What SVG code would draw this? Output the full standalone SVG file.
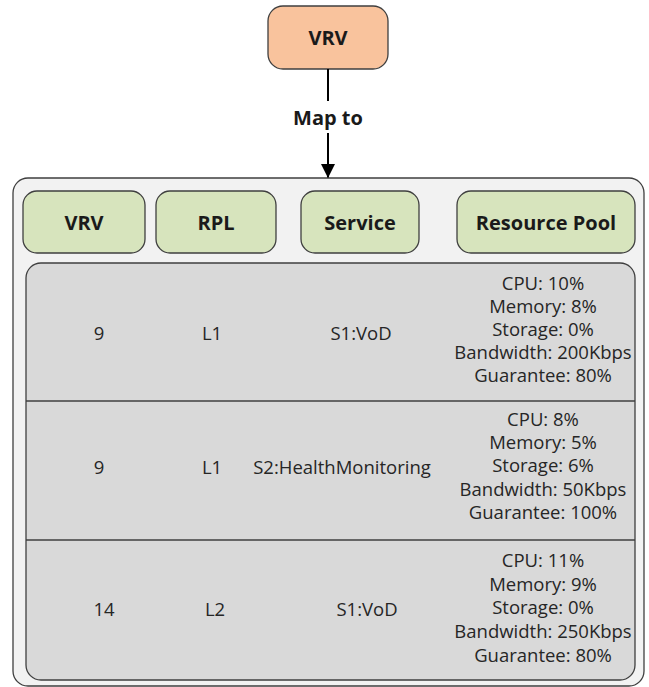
<svg xmlns="http://www.w3.org/2000/svg" width="649" height="687" viewBox="0 0 649 687">
<defs>
<marker id="arr" viewBox="0 0 14 20" refX="14" refY="10" markerWidth="14" markerHeight="20" markerUnits="userSpaceOnUse" orient="auto">
<path d="M0,3 L14,10 L0,17 Z" fill="#000"/>
</marker>
<style>
.hdr{fill:#D7E4BD;stroke:#3F3F3F;stroke-width:1.3}
.bt{font-family:"Open Sans","Liberation Sans",sans-serif;font-weight:bold;font-size:20px;fill:#1a1a1a;text-anchor:middle}
.t{font-family:"Open Sans","Liberation Sans",sans-serif;font-size:18.5px;fill:#262626;text-anchor:middle}
.ln{stroke:#000;stroke-width:2;fill:none}
</style>
</defs>
<rect width="649" height="687" fill="#fff"/>
<g id="vrv-top">
<rect x="268" y="6" width="120" height="63" rx="15" fill="#F9C39D" stroke="#3F3F3F" stroke-width="1.3"/>
<text class="bt" x="328" y="45">VRV</text>
</g>
<g id="connectors">
<line class="ln" x1="328" y1="69" x2="328" y2="101"/>
<line class="ln" x1="328" y1="133" x2="328" y2="178" marker-end="url(#arr)"/>
<text class="bt" x="328" y="125">Map to</text>
</g>
<g id="container">
<rect x="13" y="178" width="631" height="508" rx="15" fill="#F2F2F2" stroke="#3F3F3F" stroke-width="1.3"/>
</g>
<g id="hdr-vrv"><rect class="hdr" x="23" y="191" width="122" height="62" rx="14"/><text class="bt" x="84" y="230">VRV</text></g>
<g id="hdr-rpl"><rect class="hdr" x="156" y="191" width="120" height="62" rx="14"/><text class="bt" x="216" y="230">RPL</text></g>
<g id="hdr-service"><rect class="hdr" x="301" y="191" width="118" height="62" rx="14"/><text class="bt" x="360" y="230">Service</text></g>
<g id="hdr-pool"><rect class="hdr" x="457" y="191" width="178" height="62" rx="14"/><text class="bt" x="546" y="230">Resource Pool</text></g>
<g id="table">
<rect x="26" y="263" width="609" height="417" rx="15" fill="#D9D9D9" stroke="#3F3F3F" stroke-width="1.3"/>
<line x1="26" y1="401" x2="635" y2="401" stroke="#3F3F3F" stroke-width="1.5"/>
<line x1="26" y1="540" x2="635" y2="540" stroke="#3F3F3F" stroke-width="1.5"/>
</g>
<g id="row1">
<text class="t" x="99" y="340">9</text>
<text class="t" x="212" y="340">L1</text>
<text class="t" x="361" y="340">S1:VoD</text>
<text class="t" x="543" y="290">CPU: 10%</text>
<text class="t" x="543" y="313">Memory: 8%</text>
<text class="t" x="543" y="336">Storage: 0%</text>
<text class="t" x="543" y="359">Bandwidth: 200Kbps</text>
<text class="t" x="543" y="382">Guarantee: 80%</text>
</g>
<g id="row2">
<text class="t" x="99" y="474">9</text>
<text class="t" x="212" y="474">L1</text>
<text class="t" x="342" y="474">S2:HealthMonitoring</text>
<text class="t" x="543" y="426">CPU: 8%</text>
<text class="t" x="543" y="449">Memory: 5%</text>
<text class="t" x="543" y="472">Storage: 6%</text>
<text class="t" x="543" y="496">Bandwidth: 50Kbps</text>
<text class="t" x="543" y="519">Guarantee: 100%</text>
</g>
<g id="row3">
<text class="t" x="104" y="616">14</text>
<text class="t" x="215" y="616">L2</text>
<text class="t" x="367" y="616">S1:VoD</text>
<text class="t" x="543" y="567">CPU: 11%</text>
<text class="t" x="543" y="591">Memory: 9%</text>
<text class="t" x="543" y="614">Storage: 0%</text>
<text class="t" x="543" y="638">Bandwidth: 250Kbps</text>
<text class="t" x="543" y="662">Guarantee: 80%</text>
</g>
</svg>
